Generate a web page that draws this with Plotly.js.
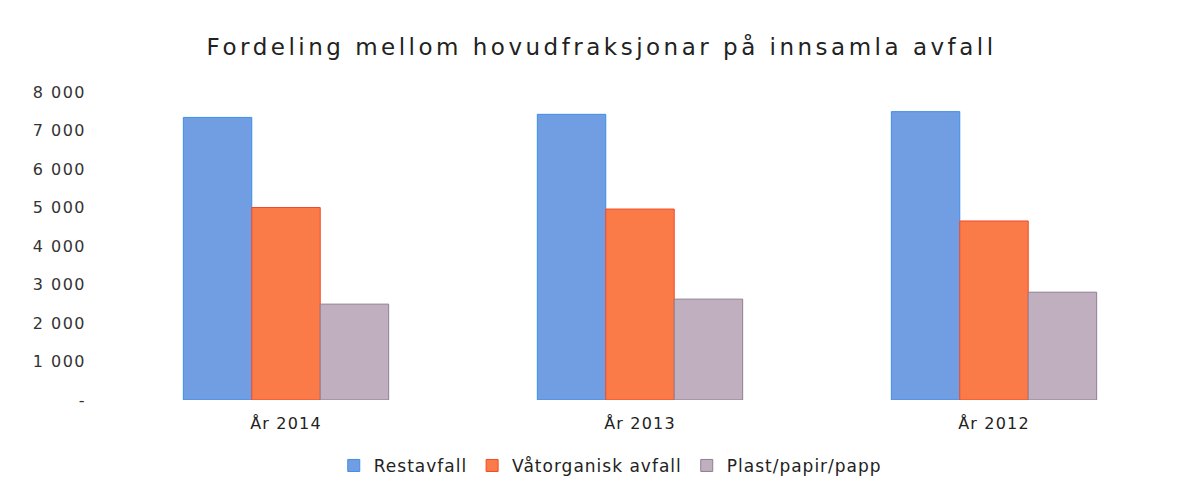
<!DOCTYPE html>
<html>
<head>
<meta charset="utf-8">
<script src="https://cdn.plot.ly/plotly-3.0.1.min.js"></script>
<style>
html,body{margin:0;padding:0;background:#fff;}
#chart{width:1196px;height:490px;}
.gtitle{letter-spacing:3.5px;}
.ytick text{letter-spacing:1.5px;}
.xtick text{letter-spacing:1.2px;}
.legendtext{letter-spacing:1px;}
</style>
</head>
<body>
<div id="chart"></div>
<script>
const categories = ["År 2014", "År 2013", "År 2012"];
const seriesNames = ["Restavfall", "Våtorganisk avfall", "Plast/papir/papp"];
const restavfall = [7340, 7420, 7490];
const vatorganisk = [5000, 4960, 4650];
const plastPapir = [2490, 2620, 2800];
const tickVals = [0, 1000, 2000, 3000, 4000, 5000, 6000, 7000, 8000];
const tickText = ["-", "1 000", "2 000", "3 000", "4 000", "5 000", "6 000", "7 000", "8 000"];

const fills = ["#719ee2", "#fb7b48", "#bfafbf"];
const edges = ["#3d8ee8", "#f04a2a", "#8f7f8f"];
const values = [restavfall, vatorganisk, plastPapir];

const traces = values.map((v, i) => ({
  type: "bar",
  name: seriesNames[i],
  x: categories,
  y: v,
  marker: {color: fills[i], line: {color: edges[i], width: 1}},
  hoverinfo: "x+y+name"
}));

const font = "'DejaVu Sans', sans-serif";
const layout = {
  width: 1196, height: 490,
  margin: {l: 109, r: 25, t: 92, b: 90, autoexpand: false},
  paper_bgcolor: "#ffffff", plot_bgcolor: "#ffffff",
  font: {family: font, color: "#222222", size: 15},
  title: {text: "Fordeling mellom hovudfraksjonar på innsamla avfall",
    font: {family: font, size: 23, color: "#222222"},
    x: 0.503, xanchor: "center", y: 0.904, yanchor: "middle"},
  barmode: "group",
  bargap: 0.42, bargroupgap: 0,
  xaxis: {showgrid: false, zeroline: false, showline: false, ticks: "",
    ticklabelstandoff: 12,
    tickfont: {family: font, size: 16, color: "#222222"}},
  yaxis: {range: [0, 8000], tickvals: tickVals, ticktext: tickText,
    showgrid: false, zeroline: false, showline: false, ticks: "",
    ticklabelstandoff: 22,
    tickfont: {family: font, size: 16, color: "#333333"}},
  legend: {orientation: "h", x: 0.472, xanchor: "center", y: -0.214, yanchor: "middle",
    font: {family: font, size: 17, color: "#222222"}, itemwidth: 30, traceorder: "normal"},
  showlegend: true
};

Plotly.newPlot("chart", traces, layout, {displayModeBar: false, staticPlot: true});
</script>
</body>
</html>
